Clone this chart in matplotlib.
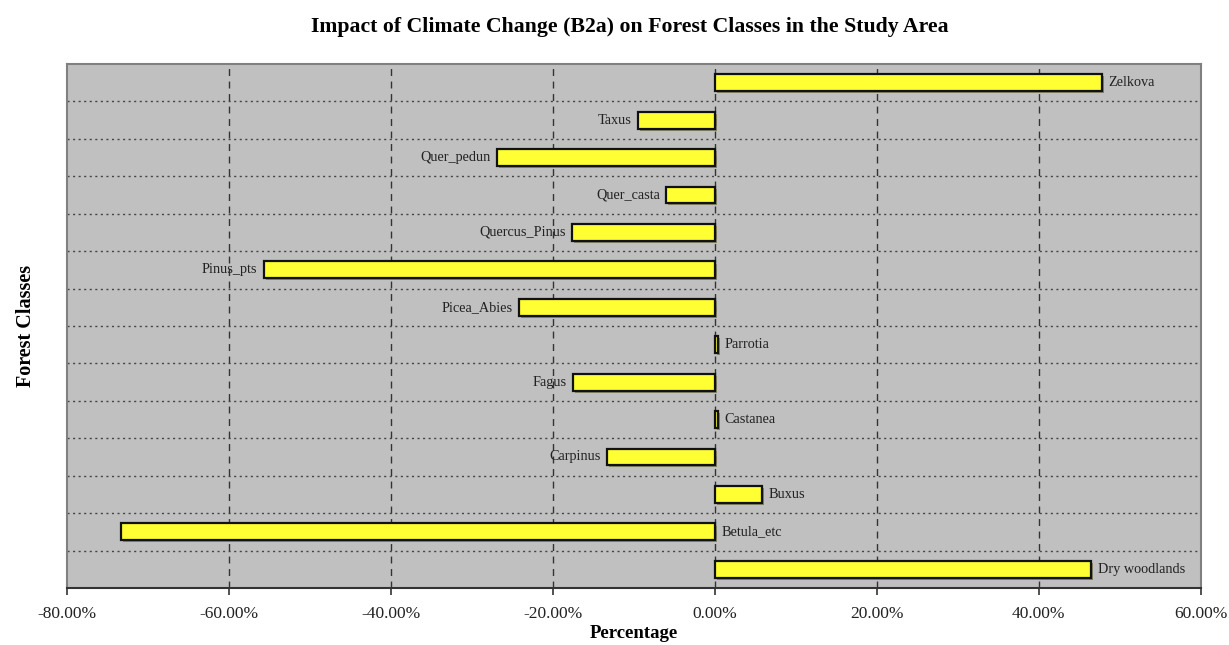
import matplotlib
matplotlib.use("Agg")
import matplotlib.pyplot as plt
import matplotlib.patheffects as pe
from matplotlib.ticker import FuncFormatter, MultipleLocator

# forest classes, top of chart first
classes = ["Zelkova", "Taxus", "Quer_pedun", "Quer_casta", "Quercus_Pinus",
           "Pinus_pts", "Picea_Abies", "Parrotia", "Fagus", "Castanea",
           "Carpinus", "Buxus", "Betula_etc", "Dry woodlands"]
change_pct = [47.8, -9.5, -26.9, -6.0, -17.6,
              -55.7, -24.2, 0.4, -17.5, 0.4,
              -13.3, 5.8, -73.3, 46.5]

plt.rcParams["font.family"] = ["Liberation Serif", "DejaVu Serif"]

fig = plt.figure(figsize=(12.29, 6.45), dpi=100)
ax = fig.add_axes([0.0545, 0.0884, 0.9225, 0.8124])
ax.set_facecolor("#c0c0c0")

ypos = list(range(len(classes)))[::-1]
bars = ax.barh(ypos, change_pct, height=0.45, color="#ffff33",
               edgecolor="#111111", linewidth=1.6, zorder=3)
for b in bars:
    b.set_path_effects([pe.SimplePatchShadow(offset=(1.5, -1.5), alpha=0.5), pe.Normal()])

# category name beside each bar
for y, v, name in zip(ypos, change_pct, classes):
    if v >= 0 or name == "Betula_etc":
        x = max(v, 0) + 0.8
        ax.text(x, y, name, ha="left", va="center", fontsize=10.3, color="#222222", zorder=4)
    else:
        ax.text(v - 0.8, y, name, ha="right", va="center", fontsize=10.3, color="#222222", zorder=4)

ax.set_xlim(-80, 60)
ax.set_ylim(-0.5, len(classes) - 0.5)
ax.xaxis.set_major_locator(MultipleLocator(20))
ax.xaxis.set_major_formatter(FuncFormatter(lambda v, p: f"{v:.2f}%"))
ax.set_yticks([])

# grid: dashed verticals at the ticks, dotted lines between classes
for xv in range(-60, 60, 20):
    ax.axvline(xv, color="#333333", linestyle=(0, (5, 4)), linewidth=1.0, zorder=1)
for k in range(1, len(classes)):
    ax.axhline(k - 0.5, color="#444444", linestyle=(0, (1.5, 2.5)), linewidth=1.0, zorder=1)

for side in ["top", "left", "right"]:
    ax.spines[side].set_color("#808080")
    ax.spines[side].set_linewidth(1.5)
ax.spines["bottom"].set_color("#333333")
ax.spines["bottom"].set_linewidth(1.5)
ax.tick_params(axis="x", direction="out", length=5, width=1.2, color="#333333",
               labelsize=12.5, labelcolor="#222222", pad=8)

ax.set_xlabel("Percentage", fontsize=13.5, fontweight="bold", labelpad=2)
ax.set_ylabel("Forest Classes", fontsize=14.5, fontweight="bold", labelpad=22)
fig.text(0.5126, 0.958, "Impact of Climate Change (B2a) on Forest Classes in the Study Area",
         fontsize=15.7, fontweight="bold", ha="center", va="center")

fig.savefig("out.png", dpi=100)
